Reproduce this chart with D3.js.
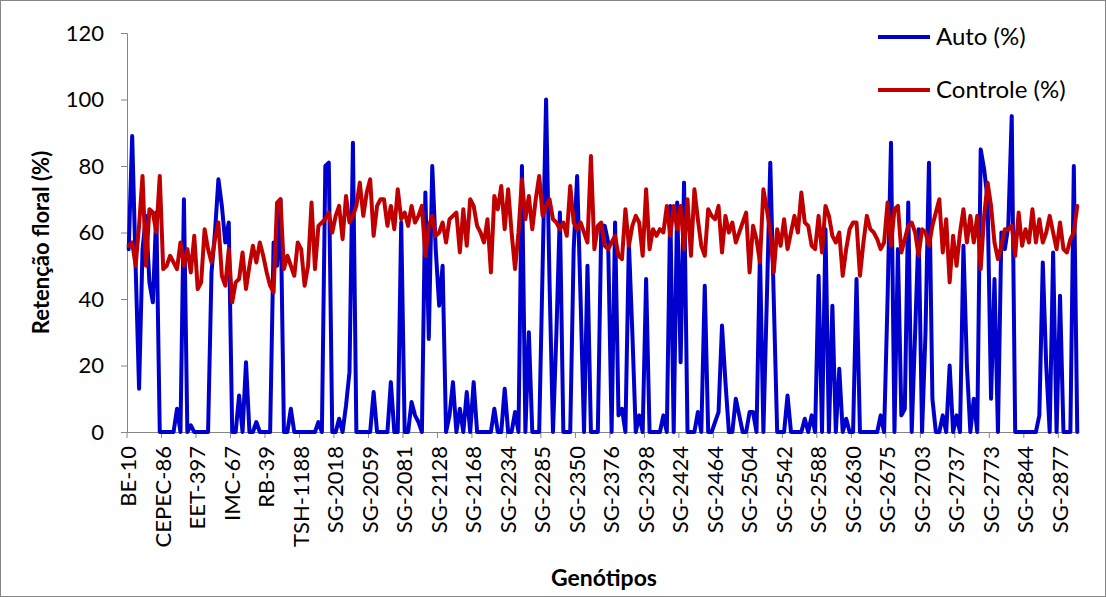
<!DOCTYPE html>
<html>
<head>
<meta charset="utf-8">
<script src="https://cdn.jsdelivr.net/npm/d3@7"></script>
<style>
  html, body { margin: 0; padding: 0; background: #fff; }
  svg text { font-family: Lato, "Open Sans", sans-serif; fill: #000; }
</style>
</head>
<body>
<svg id="chart" width="1106" height="597"></svg>
<script>
// Floral retention (%) per genotype: self-pollinated vs. control
const autoValues = [
  55, 89, 50, 13, 55, 65, 45, 39, 66, 0, 0, 0, 0, 0, 7, 0, 70, 0, 2, 0, 0,
  0, 0, 0, 48, 60, 76, 68, 57, 63, 0, 0, 11, 0, 21, 0, 0, 3, 0, 0, 0, 0, 57, 50,
  70, 0, 0, 7, 0, 0, 0, 0, 0, 0, 0, 3, 0, 80, 81, 0, 0, 4, 0, 8, 18, 87, 0, 0,
  0, 0, 0, 12, 0, 0, 0, 0, 15, 0, 0, 63, 0, 0, 9, 5, 3, 0, 72, 28, 80, 55, 38,
  50, 0, 5, 15, 0, 7, 0, 12, 0, 15, 0, 0, 0, 0, 0, 7, 0, 0, 13, 0, 0, 6, 0,
  80, 0, 30, 0, 0, 0, 50, 100, 45, 0, 30, 66, 0, 0, 0, 55, 77, 40, 0, 50, 0, 0, 0,
  62, 62, 57, 0, 63, 5, 7, 0, 57, 30, 0, 5, 0, 46, 0, 0, 0, 0, 5, 0, 68, 0, 69, 21,
  75, 0, 0, 0, 6, 0, 44, 0, 0, 3, 6, 32, 15, 0, 0, 10, 5, 0, 0, 6, 6, 0, 54,
  0, 40, 81, 40, 0, 0, 0, 11, 0, 0, 0, 0, 4, 0, 5, 0, 47, 0, 61, 0, 38, 0, 19,
  0, 4, 0, 0, 46, 0, 0, 0, 0, 0, 0, 5, 0, 40, 87, 0, 55, 5, 7, 69, 0, 30, 61,
  0, 30, 81, 10, 0, 0, 5, 0, 20, 0, 5, 0, 56, 20, 0, 10, 0, 85, 79, 70, 10, 46, 0,
  60, 55, 62, 95, 0, 0, 0, 0, 0, 0, 0, 5, 51, 20, 0, 54, 0, 41, 0, 0, 0, 80, 0
];

const controlValues = [
  56, 57, 50, 62, 77, 50, 67, 66, 60, 77, 49, 50, 53, 51, 49, 57, 50, 55, 48, 59, 43,
  45, 61, 55, 51, 58, 63, 47, 44, 55, 39, 45, 46, 54, 43, 50, 56, 51, 57, 53, 48, 44, 42, 69,
  70, 49, 53, 50, 47, 57, 55, 44, 50, 69, 49, 62, 63, 64, 66, 60, 65, 68, 58, 71, 63, 65, 68, 75,
  65, 72, 76, 59, 68, 70, 70, 62, 68, 61, 73, 64, 66, 62, 68, 63, 65, 68, 53, 62, 65, 59, 60,
  63, 57, 64, 65, 66, 54, 67, 56, 70, 68, 62, 60, 57, 64, 48, 71, 67, 74, 61, 73, 60, 49,
  60, 76, 64, 71, 61, 70, 77, 65, 68, 70, 64, 63, 61, 63, 59, 74, 63, 61, 63, 60, 57, 83, 55, 62,
  63, 56, 55, 57, 59, 53, 52, 67, 56, 62, 65, 63, 53, 73, 55, 61, 59, 61, 60, 68, 59, 68, 61, 68,
  55, 70, 53, 73, 64, 56, 53, 67, 65, 64, 68, 54, 65, 60, 63, 57, 60, 63, 66, 48, 62, 58, 51,
  73, 67, 60, 48, 61, 56, 64, 55, 60, 65, 60, 72, 63, 62, 56, 55, 65, 54, 68, 65, 59, 57, 60,
  47, 55, 61, 63, 63, 47, 57, 65, 61, 60, 58, 55, 57, 69, 56, 67, 68, 54, 58, 62, 63, 60, 53,
  61, 60, 56, 62, 66, 70, 54, 64, 45, 59, 50, 60, 67, 57, 65, 57, 65, 49, 65, 75, 68, 57, 52,
  56, 61, 61, 62, 53, 66, 56, 61, 57, 67, 57, 64, 57, 60, 65, 60, 55, 63, 55, 54, 58, 60, 68
];

// Genotype names shown on the axis (every 10th genotype)
const tickLabels = [
  "BE-10", "CEPEC-86", "EET-397", "IMC-67", "RB-39", "TSH-1188", "SG-2018",
  "SG-2059", "SG-2081", "SG-2128", "SG-2168", "SG-2234", "SG-2285", "SG-2350",
  "SG-2376", "SG-2398", "SG-2424", "SG-2464", "SG-2504", "SG-2542", "SG-2588",
  "SG-2630", "SG-2675", "SG-2703", "SG-2737", "SG-2773", "SG-2844", "SG-2877"
];
const labelStep = 10;
const yTicks = [0, 20, 40, 60, 80, 100, 120];

const seriesNames = ["Auto (%)", "Controle (%)"];
const seriesColors = ["#0000CC", "#C00000"];

const n = controlValues.length;
const indices = d3.range(n);

const svg = d3.select("#chart");
const W = 1106, H = 597;
const plot = { left: 127, right: 1079, top: 33, bottom: 432 };

// outer frame
svg.append("rect")
  .attr("x", 0.5).attr("y", 0.5)
  .attr("width", W - 1).attr("height", H - 1)
  .attr("fill", "#fff").attr("stroke", "#868686").attr("stroke-width", 1);

const x = d3.scaleBand().domain(indices).range([plot.left, plot.right]).paddingInner(0).paddingOuter(0);
const xc = i => x(i) + x.bandwidth() / 2;
const y = d3.scaleLinear().domain([0, 120]).range([plot.bottom, plot.top]);

// y axis
const yAxis = d3.axisLeft(y).tickValues(yTicks).tickSize(6).tickPadding(17);
const gy = svg.append("g").attr("transform", `translate(${plot.left},0)`).call(yAxis);
gy.select(".domain").attr("stroke", "#868686");
gy.selectAll(".tick line").attr("stroke", "#868686");
gy.selectAll(".tick text").style("font-size", "22px").attr("fill", "#000");

// x axis (category)
const tickIdx = indices.filter(i => i % labelStep === 0);
const xAxis = d3.axisBottom(x)
  .tickValues(tickIdx)
  .tickSize(0)
  .tickFormat(i => tickLabels[i / labelStep]);
const gx = svg.append("g").attr("transform", `translate(0,${plot.bottom})`).call(xAxis);
gx.select(".domain").attr("stroke", "#868686");
gx.selectAll(".tick text")
  .style("font-size", "22px")
  .attr("text-anchor", "end")
  .attr("transform", "rotate(-90)")
  .attr("x", -14)
  .attr("y", 0)
  .attr("dy", "0.35em");

// tick marks between label groups
svg.append("g").selectAll("line")
  .data(d3.range(0, n + 1, labelStep))
  .join("line")
  .attr("x1", i => i < n ? x(i) : plot.right)
  .attr("x2", i => i < n ? x(i) : plot.right)
  .attr("y1", plot.bottom).attr("y2", plot.bottom + 6)
  .attr("stroke", "#868686");

// series lines
const line = d3.line().x((d, i) => xc(i)).y(d => y(d));
[autoValues, controlValues].forEach((vals, k) => {
  svg.append("path")
    .datum(vals)
    .attr("fill", "none")
    .attr("stroke", seriesColors[k])
    .attr("stroke-width", 4)
    .attr("stroke-linejoin", "round")
    .attr("stroke-linecap", "round")
    .attr("d", line);
});

// axis titles
svg.append("text")
  .attr("transform", `translate(49,${(plot.top + plot.bottom) / 2 + 10}) rotate(-90)`)
  .attr("text-anchor", "middle")
  .style("font-size", "22px").style("font-weight", "bold")
  .text("Retenção floral (%)");

svg.append("text")
  .attr("x", 604).attr("y", 586)
  .attr("text-anchor", "middle")
  .style("font-size", "23px").style("font-weight", "bold")
  .text("Genótipos");

// legend
const legend = svg.append("g");
seriesNames.forEach((name, k) => {
  const ly = 37 + k * 53;
  legend.append("line")
    .attr("x1", 878).attr("x2", 930)
    .attr("y1", ly).attr("y2", ly)
    .attr("stroke", seriesColors[k]).attr("stroke-width", 4);
  legend.append("text")
    .attr("x", 936).attr("y", ly).attr("dy", "0.35em")
    .style("font-size", "24px")
    .text(name);
});
</script>
</body>
</html>
